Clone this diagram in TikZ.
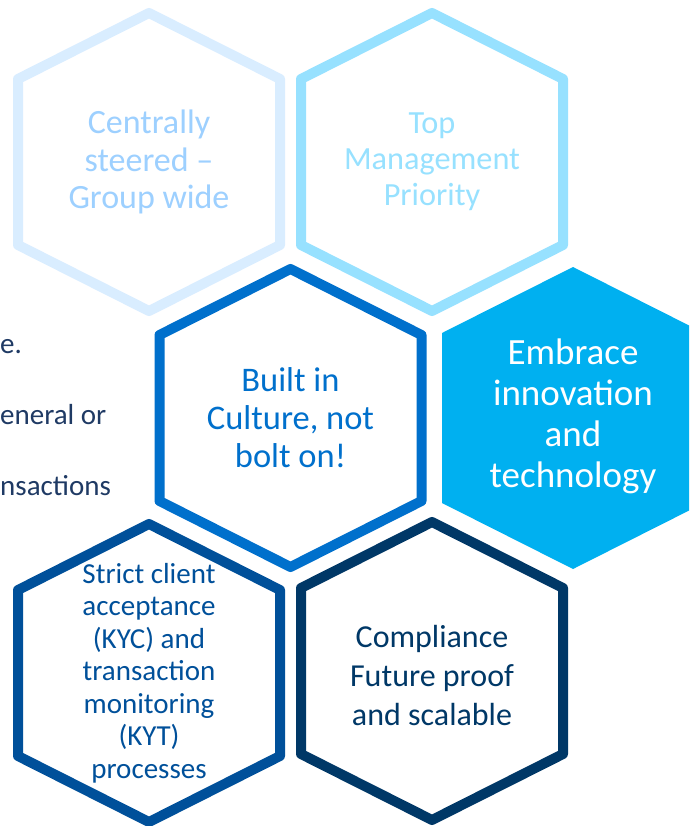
\documentclass[tikz,border=0pt]{standalone}
\usepackage{fontspec}
\setmainfont{Carlito}
\definecolor{hexA}{HTML}{D9EDFF}
\definecolor{txtA}{HTML}{9DD0FF}
\definecolor{hexB}{HTML}{97E1FF}
\definecolor{hexC}{HTML}{0070CC}
\definecolor{hexD}{HTML}{00B0F0}
\definecolor{hexE}{HTML}{00509A}
\definecolor{hexF}{HTML}{003867}
\definecolor{sidetxt}{HTML}{1F3A64}
\newcommand{\hexshape}{(0,-149) -- (131,-83) -- (131,83) -- (0,149) -- (-131,83) -- (-131,-83) -- cycle}
\newcommand{\hexfillshape}{(0,-151) -- (131,-85) -- (131,85) -- (0,151) -- (-131,85) -- (-131,-85) -- cycle}
\tikzset{
  hexline/.style={line width=10pt, line join=round},
  hextext/.style={align=center, inner sep=0pt},
  sidetext/.style={anchor=base west, inner sep=0pt, text=sidetxt, font=\fontsize{29}{34}\selectfont},
}
\begin{document}
\begin{tikzpicture}[x=1pt,y=-1pt]
\useasboundingbox (0,0) rectangle (689,826);
\clip (0,0) rectangle (689,826);
\fill[white] (0,0) rectangle (689,826);
% side text (cut off at left)
\node[sidetext] (s1) at (0,353) {e.};
\node[sidetext] (s2) at (0,424) {eneral or};
\node[sidetext] (s3) at (0,495) {nsactions};
% hexagons
\draw[hexline, draw=hexA, shift={(149,162)}] \hexshape;
\draw[hexline, draw=hexB, shift={(432,162)}] \hexshape;
\draw[hexline, draw=hexC, shift={(290.5,418)}] \hexshape;
\fill[hexD, shift={(573,418)}] \hexfillshape;
\draw[hexline, draw=hexE, shift={(149,673)}] \hexshape;
\draw[hexline, draw=hexF, shift={(432,671)}] \hexshape;
% texts
\node[hextext, text=txtA, font=\fontsize{34}{37.5}\selectfont] (t1) at (149,162) {Centrally\\steered --\\Group wide};
\node[hextext, text=hexB, font=\fontsize{32.3}{36}\selectfont] (t2) at (432,162) {Top\\Management\\Priority};
\node[hextext, text=hexC, font=\fontsize{34.5}{38}\selectfont] (t3) at (290.5,418) {Built in\\Culture, not\\bolt on!};
\node[hextext, text=white, font=\fontsize{37}{41}\selectfont] (t4) at (573,416.5) {Embrace\\innovation\\and\\technology};
\node[hextext, text=hexE, font=\fontsize{29}{32.5}\selectfont] (t5) at (149,673) {Strict client\\acceptance\\(KYC) and\\transaction\\monitoring\\(KYT)\\processes};
\node[hextext, text=hexF, font=\fontsize{32}{39}\selectfont] (t6) at (432,675) {Compliance\\Future proof\\and scalable};
\end{tikzpicture}
\end{document}
